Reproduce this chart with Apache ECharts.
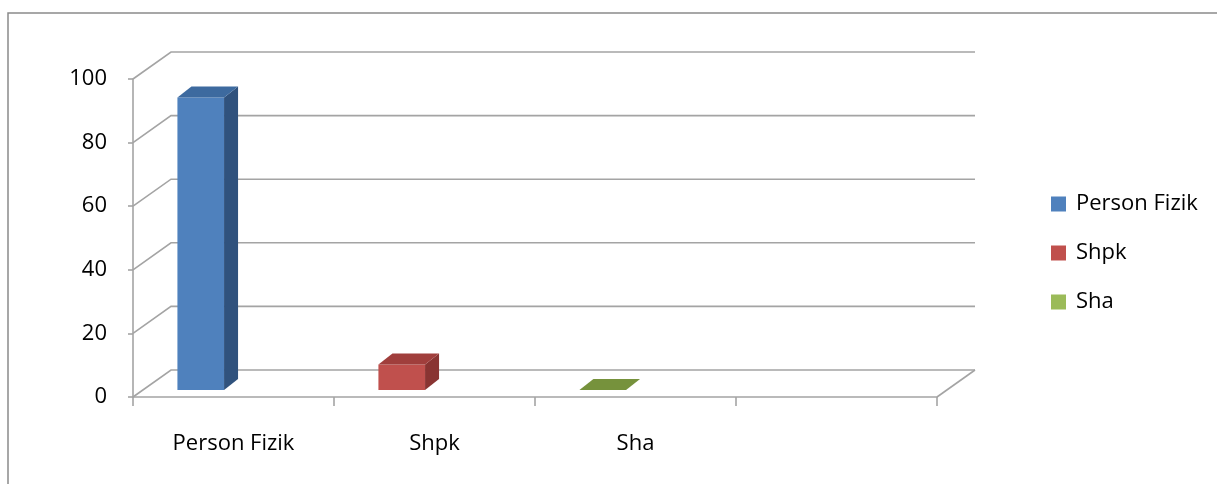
<!DOCTYPE html>
<html>
<head>
<meta charset="utf-8">
<script src="https://cdn.jsdelivr.net/npm/echarts@6/dist/echarts.min.js"></script>
<style>
  html, body { margin: 0; padding: 0; background: #fff; }
  #chart { width: 1217px; height: 484px; }
</style>
</head>
<body>
<div id="chart"></div>
<script>
// Categories along the floor (the last slot is left empty)
const categories = ['Person Fizik', 'Shpk', 'Sha', ''];
// One series per entity, each with a single bar
const seriesNames = ['Person Fizik', 'Shpk', 'Sha'];
const seriesValues = [92, 8, 0];
// Value axis ticks
const yTicks = [0, 20, 40, 60, 80, 100];

// Face colours for each series: [legend/front, top, side]
const palette = [
  ['#4F81BD', '#3D6A9F', '#30527D'],
  ['#C0504D', '#A03E3C', '#893432'],
  ['#9BBB59', '#76923C', '#5F7830']
];

const FONT = 'Open Sans';
const GRID_COLOR = '#a4a4a4';
// Oblique projection of the chart depth
const WALL_DX = 38, WALL_DY = -27;
// Bar placement within its slot and its own depth
const BAR_LEFT = -0.279, BAR_WIDTH = 0.232;
const BAR_FRONT_DY = -7;
const BAR_DX = 14, BAR_DY = -11;

const chart = echarts.init(document.getElementById('chart'));

// Back wall gridlines with their diagonal returns to the front axis
function wallRender(params, api) {
  const cs = params.coordSys;
  const v = api.value(0);
  const y = api.coord([0, v])[1];
  const x0 = cs.x, x1 = cs.x + cs.width;
  const style = { stroke: GRID_COLOR, lineWidth: 1.6, fill: null };
  const children = [{
    type: 'polyline',
    shape: { points: [[x0, y], [x0 + WALL_DX, y + WALL_DY], [x1 + WALL_DX, y + WALL_DY]] },
    style: style
  }];
  if (v === 0) {
    children.push({
      type: 'polyline',
      shape: { points: [[x1, y], [x1 + WALL_DX, y + WALL_DY]] },
      style: style
    });
  }
  return { type: 'group', children: children };
}

// A box-shaped column: front face, right side and top
function barRender(colors) {
  return function (params, api) {
    const idx = api.value(0);
    const val = api.value(1);
    const base = api.coord([idx, 0]);
    const top = api.coord([idx, val]);
    const bw = api.size([1, 0])[0];
    const l = base[0] + BAR_LEFT * bw;
    const r = l + BAR_WIDTH * bw;
    const yb = base[1] + BAR_FRONT_DY;
    const yt = top[1] + BAR_FRONT_DY;
    const children = [];
    if (yb - yt > 0.5) {
      children.push({
        type: 'polygon',
        shape: { points: [[l, yt], [r, yt], [r, yb], [l, yb]] },
        style: { fill: colors[0] }
      });
      children.push({
        type: 'polygon',
        shape: { points: [[r, yt], [r + BAR_DX, yt + BAR_DY], [r + BAR_DX, yb + BAR_DY], [r, yb]] },
        style: { fill: colors[2] }
      });
    }
    children.push({
      type: 'polygon',
      shape: { points: [[l, yt], [r, yt], [r + BAR_DX, yt + BAR_DY], [l + BAR_DX, yt + BAR_DY]] },
      style: { fill: colors[1] }
    });
    return { type: 'group', children: children };
  };
}

const series = [{
  name: 'wall',
  type: 'custom',
  renderItem: wallRender,
  data: yTicks.map(v => [v]),
  encode: { y: 0 },
  clip: false,
  silent: true,
  z: 1
}];

seriesNames.forEach((name, i) => {
  series.push({
    name: name,
    type: 'custom',
    renderItem: barRender(palette[i]),
    data: [[i, seriesValues[i]]],
    encode: { x: 0, y: 1 },
    itemStyle: { color: palette[i][0] },
    clip: false,
    z: 3
  });
});

chart.setOption({
  animation: false,
  backgroundColor: '#fff',
  textStyle: { fontFamily: FONT },
  grid: {
    left: 133, right: 280, top: 79, bottom: 87,
    containLabel: false,
    outerBoundsMode: 'none'
  },
  graphic: [{
    type: 'rect',
    shape: { x: 8, y: 13, width: 1400, height: 700 },
    style: { fill: null, stroke: '#8a8a8a', lineWidth: 1.5 },
    silent: true,
    z: 0
  }],
  legend: {
    data: seriesNames,
    orient: 'vertical',
    left: 1046,
    top: 188,
    itemWidth: 15,
    itemHeight: 15,
    itemGap: 27,
    icon: 'rect',
    textStyle: { fontFamily: FONT, fontSize: 22, color: '#000', padding: [0, 0, 0, 5] }
  },
  xAxis: {
    type: 'category',
    data: categories,
    boundaryGap: true,
    axisLine: { show: true, lineStyle: { color: GRID_COLOR, width: 1.6 } },
    axisTick: { show: true, length: 9, lineStyle: { color: GRID_COLOR, width: 1.6 } },
    axisLabel: { margin: 36, fontFamily: FONT, fontSize: 22, color: '#000', interval: 0 },
    splitLine: { show: false }
  },
  yAxis: {
    type: 'value',
    min: 0,
    max: 100,
    interval: 20,
    axisLine: { show: true, lineStyle: { color: GRID_COLOR, width: 1.6 } },
    axisTick: { show: true, length: 5, lineStyle: { color: GRID_COLOR, width: 1.6 } },
    axisLabel: { margin: 26, fontFamily: FONT, fontSize: 22, color: '#000' },
    splitLine: { show: false }
  },
  series: series
});
</script>
</body>
</html>
